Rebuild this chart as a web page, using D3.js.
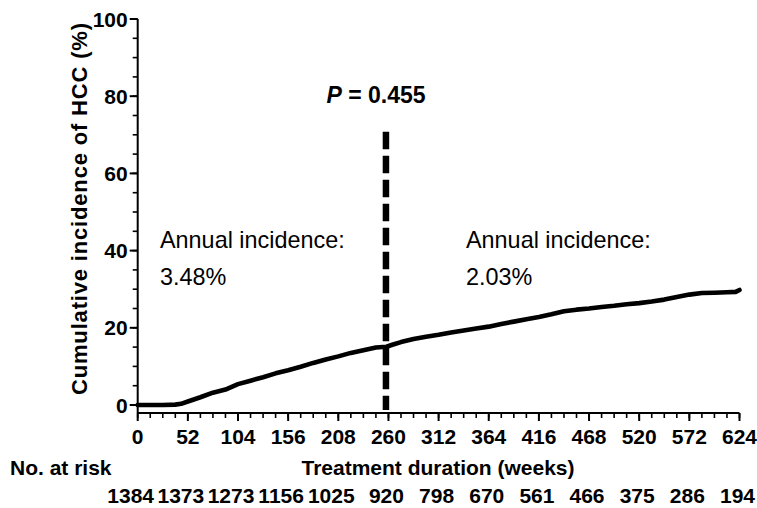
<!DOCTYPE html>
<html>
<head>
<meta charset="utf-8">
<script src="https://cdn.jsdelivr.net/npm/d3@7"></script>
<style>
  body { margin: 0; background: #fff; }
  svg text { font-family: "Liberation Sans", Arial, sans-serif; fill: #000; }
</style>
</head>
<body>
<svg width="757" height="508"></svg>
<script>
// cumulative incidence curve
var weeks = [0, 13, 26, 39, 45, 52, 65, 78, 91, 104, 117, 130, 143, 156, 169, 182, 195, 208, 221, 234, 247, 258, 264,
             273, 286, 299, 312, 325, 338, 351, 364, 377, 390, 403, 416, 429, 442, 455, 468, 481, 494, 507,
             520, 533, 546, 559, 572, 585, 598, 611, 620, 624];
var incidence = [0, 0, 0, 0.1, 0.3, 0.9, 2.0, 3.2, 4.0, 5.4, 6.3, 7.2, 8.2, 9.0, 9.9, 10.9, 11.8, 12.6, 13.5, 14.2, 14.9, 15.1, 15.6,
                 16.3, 17.1, 17.7, 18.2, 18.8, 19.3, 19.8, 20.3, 21.0, 21.6, 22.2, 22.8, 23.5, 24.3, 24.7, 25.0, 25.4, 25.7, 26.1,
                 26.4, 26.8, 27.3, 28.0, 28.6, 29.0, 29.1, 29.2, 29.3, 29.8];

var xTicks = [0, 52, 104, 156, 208, 260, 312, 364, 416, 468, 520, 572, 624];
var yTicks = [0, 20, 40, 60, 80, 100];
var atRisk = [1384, 1373, 1273, 1156, 1025, 920, 798, 670, 561, 466, 375, 286, 194];
var cutWeek = 260;
var pText = "0.455";
var annual = ["3.48%", "2.03%"];

var svg = d3.select("svg");

var x = d3.scaleLinear().domain([0, 624]).range([137.7, 739.5]);
var y = d3.scaleLinear().domain([0, 100]).range([405, 19]);
var axisY = 413;

var font = 21;

// y axis
var yAx = svg.append("g").attr("transform", "translate(" + x(0) + ",0)");
yAx.append("line").attr("x1", 0).attr("x2", 0).attr("y1", y(100)).attr("y2", axisY)
    .attr("stroke", "#000").attr("stroke-width", 2);
yAx.selectAll(".minor").data(d3.range(0, 101, 5)).enter().append("line")
    .attr("x1", -5).attr("x2", 0).attr("y1", d => y(d)).attr("y2", d => y(d))
    .attr("stroke", "#000").attr("stroke-width", 1.6);
yAx.selectAll(".major").data(yTicks).enter().append("line")
    .attr("x1", -8).attr("x2", 0).attr("y1", d => y(d)).attr("y2", d => y(d))
    .attr("stroke", "#000").attr("stroke-width", 2);
yAx.selectAll("text").data(yTicks).enter().append("text")
    .attr("x", -10).attr("y", d => y(d)).attr("dy", "0.36em")
    .attr("text-anchor", "end").attr("font-weight", "bold").attr("font-size", font)
    .text(d => d);

// x axis
var xAx = svg.append("g").attr("transform", "translate(0," + axisY + ")");
xAx.append("line").attr("x1", x(0)).attr("x2", x(624)).attr("y1", 0).attr("y2", 0)
    .attr("stroke", "#000").attr("stroke-width", 2);
xAx.selectAll(".minor").data(d3.range(0, 625, 13)).enter().append("line")
    .attr("x1", d => x(d)).attr("x2", d => x(d)).attr("y1", 0).attr("y2", 5)
    .attr("stroke", "#000").attr("stroke-width", 1.6);
xAx.selectAll(".major").data(xTicks).enter().append("line")
    .attr("x1", d => x(d)).attr("x2", d => x(d)).attr("y1", 0).attr("y2", 8)
    .attr("stroke", "#000").attr("stroke-width", 2);
xAx.selectAll("text").data(xTicks).enter().append("text")
    .attr("x", d => x(d)).attr("y", 31)
    .attr("text-anchor", "middle").attr("font-weight", "bold").attr("font-size", font)
    .text(d => d);

// axis titles
svg.append("text")
    .attr("transform", "translate(87,209) rotate(-90)")
    .attr("text-anchor", "middle").attr("font-weight", "bold").attr("font-size", 22)
    .attr("textLength", 372).attr("lengthAdjust", "spacing")
    .text("Cumulative incidence of HCC (%)");

svg.append("text")
    .attr("x", 438).attr("y", 475)
    .attr("text-anchor", "middle").attr("font-weight", "bold").attr("font-size", font)
    .text("Treatment duration (weeks)");

svg.append("text")
    .attr("x", 10).attr("y", 475)
    .attr("font-weight", "bold").attr("font-size", font)
    .text("No. at risk");

// numbers at risk: four-digit ones sit a bit left of their tick
svg.selectAll(".risk").data(atRisk).enter().append("text")
    .attr("x", (d, i) => x(xTicks[i]) - (d >= 1000 ? 7 : 2)).attr("y", 503)
    .attr("text-anchor", "middle").attr("font-weight", "bold").attr("font-size", font)
    .text(d => d);

// dashed cut line
svg.append("line")
    .attr("x1", x(cutWeek) - 2.5).attr("x2", x(cutWeek) - 2.5)
    .attr("y1", 131.7).attr("y2", 410)
    .attr("stroke", "#000").attr("stroke-width", 6.5)
    .attr("stroke-dasharray", "17.5,6.5");

// curve
var line = d3.line().x((d, i) => x(weeks[i])).y(d => y(d)).curve(d3.curveLinear);
svg.append("path")
    .datum(incidence)
    .attr("d", line)
    .attr("fill", "none").attr("stroke", "#000").attr("stroke-width", 4.6)
    .attr("stroke-linejoin", "round").attr("stroke-linecap", "round");

// P value
var p = svg.append("text")
    .attr("x", 376).attr("y", 103)
    .attr("text-anchor", "middle").attr("font-weight", "bold").attr("font-size", 23);
p.append("tspan").attr("font-style", "italic").text("P");
p.append("tspan").text(" = " + pText);

// annual incidence
var annX = [160, 466];
annual.forEach(function(v, i) {
  svg.append("text").attr("x", annX[i]).attr("y", 248).attr("font-size", 23.4).text("Annual incidence:");
  svg.append("text").attr("x", annX[i]).attr("y", 285).attr("font-size", 23.4).text(v);
});
</script>
</body>
</html>
